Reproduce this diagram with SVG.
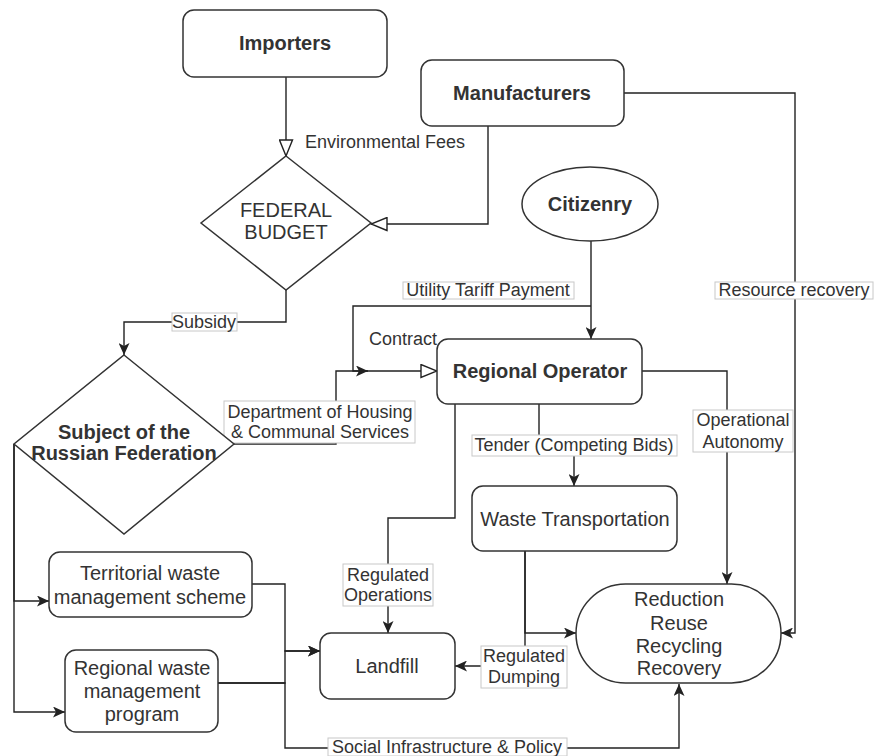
<svg xmlns="http://www.w3.org/2000/svg" width="875" height="756" viewBox="0 0 875 756">
<style>
.node{fill:#fff;stroke:#333;stroke-width:1.5}
.e{fill:none;stroke:#222;stroke-width:1.4}
.f{marker-end:url(#fa)}
.o{marker-end:url(#oa)}
.tb{font-family:"Liberation Sans",Arial,sans-serif;font-size:20px;font-weight:bold;fill:#333;text-anchor:middle}
.tr{font-family:"Liberation Sans",Arial,sans-serif;font-size:20px;fill:#333;text-anchor:middle}
.tl{font-family:"Liberation Sans",Arial,sans-serif;font-size:18px;fill:#333;text-anchor:middle}
.lb{fill:#fff;stroke:#c8c8c8;stroke-width:1}
</style>
<defs>
<marker id="fa" markerUnits="userSpaceOnUse" markerWidth="12" markerHeight="11" viewBox="0 0 12 11" refX="12" refY="5.5" orient="auto">
<path d="M0,0 L12,5.5 L0,11 L3,5.5 Z" fill="#222"/>
</marker>
<marker id="oa" markerUnits="userSpaceOnUse" markerWidth="18" markerHeight="15" viewBox="0 0 18 15" refX="17" refY="7.5" orient="auto">
<path d="M1,1 L17,7.5 L1,14 Z" fill="#fff" stroke="#222" stroke-width="1.4"/>
</marker>
</defs>
<rect width="875" height="756" fill="#fff"/>
<g id="connectors">
<path class="e o" d="M286,77 V156"/>
<path class="e o" d="M488,126 V224 H371"/>
<path class="e f" d="M286,290 V322 H124 V355"/>
<path class="e f" d="M591,241 V339"/>
<path class="e f" d="M591,306 H353 V371 H368"/>
<path class="e o" d="M233,444 H336 V371 H437"/>
<path class="e f" d="M539,404 V445 H574 V486"/>
<path class="e f" d="M642,371 H727 V584"/>
<path class="e f" d="M624,93 H795 V633 H781"/>
<path class="e f" d="M455,404 V518 H388 V633"/>
<path class="e f" d="M525,551 V633 H576"/>
<path class="e f" d="M525,551 V666 H455"/>
<path class="e f" d="M14,444 V601 H49"/>
<path class="e f" d="M14,444 V712 H65"/>
<path class="e f" d="M252,584 H285 V651 H320"/>
<path class="e f" d="M218,683 H285 V651 H320"/>
<path class="e f" d="M218,683 H285 V748 H679 V684"/>
<text class="tl" x="305" y="148" style="text-anchor:start">Environmental Fees</text>
<text class="tl" x="369" y="345" style="text-anchor:start">Contract</text>
<rect class="lb" x="403" y="282" width="171" height="17"/>
<text class="tl" x="488" y="296">Utility Tariff Payment</text>
<rect class="lb" x="715" y="282" width="158" height="17"/>
<text class="tl" x="794" y="296">Resource recovery</text>
<rect class="lb" x="172" y="313" width="65" height="18"/>
<text class="tl" x="204" y="328">Subsidy</text>
<rect class="lb" x="224" y="401" width="191" height="42"/>
<text class="tl" x="320" y="418">Department of Housing</text>
<text class="tl" x="320" y="438">&amp; Communal Services</text>
<rect class="lb" x="472" y="435" width="205" height="21"/>
<text class="tl" x="574" y="451">Tender (Competing Bids)</text>
<rect class="lb" x="693" y="410" width="100" height="42"/>
<text class="tl" x="743" y="426">Operational</text>
<text class="tl" x="743" y="448">Autonomy</text>
<rect class="lb" x="343" y="564" width="90" height="42"/>
<text class="tl" x="388" y="581">Regulated</text>
<text class="tl" x="388" y="601">Operations</text>
<rect class="lb" x="481" y="646" width="86" height="42"/>
<text class="tl" x="524" y="662">Regulated</text>
<text class="tl" x="524" y="683">Dumping</text>
<rect class="lb" x="328" y="738" width="239" height="18"/>
<text class="tl" x="447" y="753">Social Infrastructure &amp; Policy</text>
</g>
<g id="importers">
<rect class="node" x="183" y="10" width="204" height="67" rx="11"/>
<text class="tb" x="285" y="50">Importers</text>
</g>
<g id="manufacturers">
<rect class="node" x="421" y="60" width="203" height="66" rx="11"/>
<text class="tb" x="522" y="100">Manufacturers</text>
</g>
<g id="federal-budget">
<polygon class="node" points="286,156 371,223 286,290 201,223"/>
<text class="tr" x="286" y="217">FEDERAL</text>
<text class="tr" x="286" y="239">BUDGET</text>
</g>
<g id="citizenry">
<ellipse class="node" cx="590" cy="204" rx="68" ry="37"/>
<text class="tb" x="590" y="211">Citizenry</text>
</g>
<g id="regional-operator">
<rect class="node" x="437" y="339" width="205" height="65" rx="11"/>
<text class="tb" x="540" y="378">Regional Operator</text>
</g>
<g id="subject">
<polygon class="node" points="124,355 234,444 124,534 14,444"/>
<text class="tb" x="124" y="439">Subject of the</text>
<text class="tb" x="124" y="460">Russian Federation</text>
</g>
<g id="waste-transportation">
<rect class="node" x="472" y="486" width="205" height="65" rx="11"/>
<text class="tr" x="575" y="526">Waste Transportation</text>
</g>
<g id="territorial">
<rect class="node" x="49" y="552" width="203" height="65" rx="11"/>
<text class="tr" x="150" y="580">Territorial waste</text>
<text class="tr" x="150" y="604">management scheme</text>
</g>
<g id="regional-program">
<rect class="node" x="65" y="650" width="153" height="82" rx="11"/>
<text class="tr" x="142" y="675">Regional waste</text>
<text class="tr" x="142" y="698">management</text>
<text class="tr" x="142" y="721">program</text>
</g>
<g id="landfill">
<rect class="node" x="320" y="633" width="135" height="66" rx="11"/>
<text class="tr" x="387" y="673">Landfill</text>
</g>
<g id="reduction">
<rect class="node" x="576" y="584" width="205" height="99" rx="49.5"/>
<text class="tr" x="679" y="606">Reduction</text>
<text class="tr" x="679" y="630">Reuse</text>
<text class="tr" x="679" y="653">Recycling</text>
<text class="tr" x="679" y="675">Recovery</text>
</g>
</svg>
